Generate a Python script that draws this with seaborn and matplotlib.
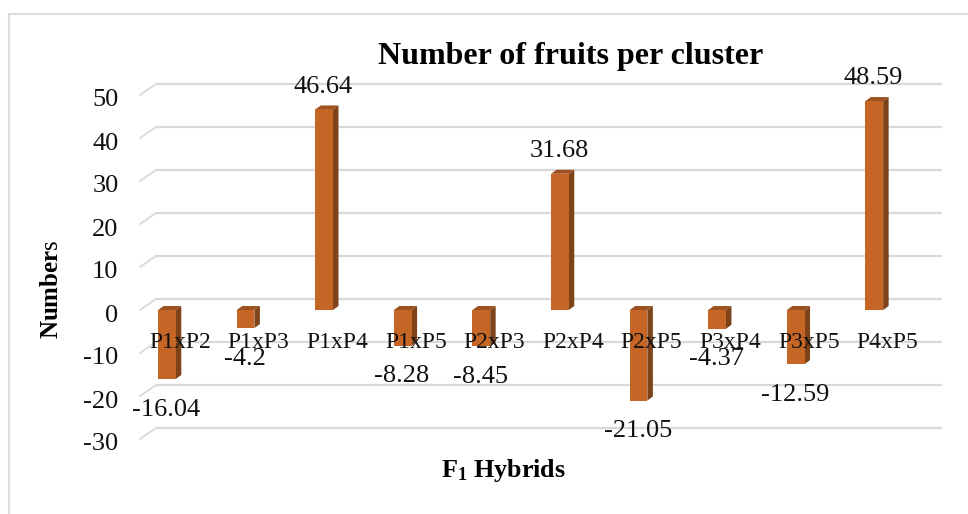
import matplotlib
matplotlib.use("Agg")
import matplotlib.pyplot as plt
from matplotlib.patches import Polygon
from matplotlib.transforms import Affine2D, blended_transform_factory
from matplotlib.lines import Line2D
import seaborn as sns
import pandas as pd

hybrids = ["P1xP2", "P1xP3", "P1xP4", "P1xP5", "P2xP3", "P2xP4", "P2xP5", "P3xP4", "P3xP5", "P4xP5"]
values = [-16.04, -4.2, 46.64, -8.28, -8.45, 31.68, -21.05, -4.37, -12.59, 48.59]
y_ticks = [-30, -20, -10, 0, 10, 20, 30, 40, 50]
title = "Number of fruits per cluster"

FACE, SIDE, TOP, GRID = "#C56626", "#7F4319", "#9C5220", "#D9D9D9"
W, H = 968, 514
sns.set_theme(style="white")
plt.rcParams["font.family"] = ["Liberation Serif", "DejaVu Serif"]
plt.rcParams["axes.unicode_minus"] = False
plt.rcParams["mathtext.fontset"] = "custom"
plt.rcParams["mathtext.rm"] = "Liberation Serif"
plt.rcParams["mathtext.bf"] = "Liberation Serif:bold"
plt.rcParams["mathtext.it"] = "Liberation Serif:italic"

fig = plt.figure(figsize=(W / 100, H / 100), dpi=100, facecolor="white")
ax = fig.add_axes([140 / W, (H - 439) / H, 785 / W, 344 / H])
df = pd.DataFrame({"hybrid": hybrids, "value": values})
sns.barplot(data=df, x="hybrid", y="value", color=FACE, saturation=1, width=0.225, ax=ax, zorder=3, errorbar=None)
ax.set_xlim(-0.343, 9.645)
ax.set_ylim(-30, 50)
ax.set_yticks(y_ticks)
ax.set_xlabel("")
ax.set_ylabel("")
for s in ["top", "right", "left"]:
    ax.spines[s].set_visible(False)
ax.spines["bottom"].set_position(("data", 0))
ax.spines["bottom"].set_visible(False)
ax.patch.set_alpha(0)

# Tick labels
ax.tick_params(axis="y", length=0, pad=15.5, labelsize=19, labelcolor="#111111")
ax.tick_params(axis="x", length=0, pad=15.5, labelsize=17, labelcolor="#111111")
ax.xaxis.set_zorder(6)
for lab in ax.get_xticklabels():
    lab.set_transform(lab.get_transform() + Affine2D().translate(13, 0))
for lab in ax.get_yticklabels():
    lab.set_transform(lab.get_transform() + Affine2D().translate(0, -3))

# Depth walls: floor offset in pixels
DX, DY = 16, 11
base = blended_transform_factory(ax.transAxes, ax.transData)
back = base + Affine2D().translate(DX, DY)
for v in y_ticks:
    ax.add_line(Line2D([0, 1], [v, v], transform=back, color=GRID, lw=1.6, zorder=1, clip_on=False))
    p0 = base.transform((0, v))
    ax.add_line(Line2D([p0[0], p0[0] + DX], [p0[1], p0[1] + DY], transform=None, color=GRID, lw=1.3, zorder=1, clip_on=False))

# 3-D sides and caps, derived from the seaborn bars
bd_x, bd_y = 5.5, 4.0
for bar, val in zip(ax.patches, values):
    bar.set_edgecolor("none")
    x0, x1 = bar.get_x(), bar.get_x() + bar.get_width()
    y0, y1 = sorted((0, val))
    (ax0, ay0), (ax1, ay1) = ax.transData.transform([(x0, y0), (x1, y1)])
    ax.add_patch(Polygon([(ax1, ay0), (ax1 + bd_x, ay0 + bd_y), (ax1 + bd_x, ay1 + bd_y), (ax1, ay1)],
                         transform=None, fc=SIDE, ec="none", zorder=2.9))
    ax.add_patch(Polygon([(ax0, ay1), (ax0 + bd_x, ay1 + bd_y), (ax1 + bd_x, ay1 + bd_y), (ax1, ay1)],
                         transform=None, fc=TOP, ec="none", zorder=2.9))

# Data labels
for i, val in enumerate(values):
    off = 16.5 if val > 0 else -22
    ax.annotate(f"{val:g}", (i, val), xytext=(-0.5, off), textcoords="offset points",
                ha="center", va="center", fontsize=19, color="#111111", zorder=7, annotation_clip=False)

fig.text(571 / W, 1 - 56 / H, title, ha="center", va="center", fontsize=23, fontweight="bold", color="black")
fig.text(503 / W, 1 - 470 / H, r"$\mathbf{F_1\ Hybrids}$", ha="center", va="center", fontsize=18.8, color="black")
fig.text(52 / W, 1 - 289 / H, r"$\mathbf{Number}\mathrm{s}$", rotation=90, ha="center", va="center", fontsize=18, color="black")

# Chart-area border
fig.add_artist(Line2D([8.5 / W, 8.5 / W, 1], [0, 1 - 13.5 / H, 1 - 13.5 / H], transform=fig.transFigure, color="#DDDDDD", lw=1.5))

fig.savefig("out.png", dpi=100, facecolor="white")
